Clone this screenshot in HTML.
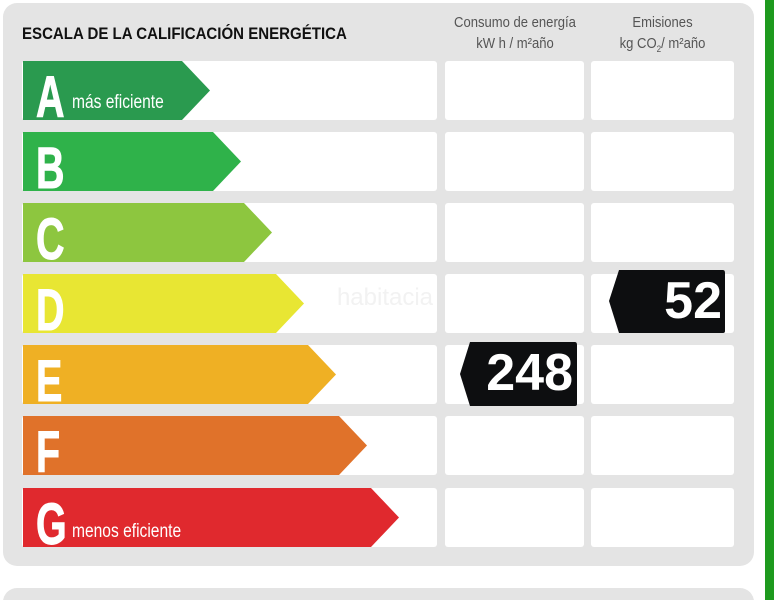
<!DOCTYPE html>
<html><head><meta charset="utf-8"><style>
html,body{margin:0;padding:0;background:#fff;width:774px;height:600px;overflow:hidden;position:relative;font-family:"Liberation Sans",sans-serif}
.panel{position:absolute;left:3px;top:3px;width:751px;height:563px;background:#e4e4e4;border-radius:14px}
.panel2{position:absolute;left:3px;top:588px;width:751px;height:40px;background:#e4e4e4;border-radius:14px}
.green{position:absolute;left:765px;top:0;width:9px;height:600px;background:#1e9a1e}
.title{position:absolute;left:22px;top:24px;font-weight:bold;font-size:17px;color:#111;transform:scaleX(.885);transform-origin:left;white-space:nowrap}
.hd{position:absolute;top:13px;font-size:14.5px;color:#555;text-align:center;line-height:21px;transform:scaleX(.9);white-space:nowrap}
.txt{position:absolute;color:#fff;font-weight:bold;white-space:nowrap;transform-origin:left top}
.L{font-size:58px;line-height:58px;transform:scaleX(.68);-webkit-text-stroke:1px #fff}
.S{font-size:19px;font-weight:normal;transform:scaleX(.82)}
</style></head><body>
<div class="panel"></div><div class="panel2"></div><div class="green"></div>
<div class="title">ESCALA DE LA CALIFICACIÓN ENERGÉTICA</div>
<div class="hd" style="left:445px;width:140px">Consumo de energía<br>kW h / m²año</div>
<div class="hd" style="left:591px;width:143px">Emisiones<br>kg CO<sub style="font-size:9px">2</sub>/ m²año</div>
<svg width="774" height="600" style="position:absolute;left:0;top:0">
<g fill="#fff">
<rect x="22" y="61" width="415" height="59" rx="3"/><rect x="445" y="61" width="139" height="59" rx="3"/><rect x="591" y="61" width="143" height="59" rx="3"/>
<rect x="22" y="132" width="415" height="59" rx="3"/><rect x="445" y="132" width="139" height="59" rx="3"/><rect x="591" y="132" width="143" height="59" rx="3"/>
<rect x="22" y="203" width="415" height="59" rx="3"/><rect x="445" y="203" width="139" height="59" rx="3"/><rect x="591" y="203" width="143" height="59" rx="3"/>
<rect x="22" y="274" width="415" height="59" rx="3"/><rect x="445" y="274" width="139" height="59" rx="3"/><rect x="591" y="274" width="143" height="59" rx="3"/>
<rect x="22" y="345" width="415" height="59" rx="3"/><rect x="445" y="345" width="139" height="59" rx="3"/><rect x="591" y="345" width="143" height="59" rx="3"/>
<rect x="22" y="416" width="415" height="59" rx="3"/><rect x="445" y="416" width="139" height="59" rx="3"/><rect x="591" y="416" width="143" height="59" rx="3"/>
<rect x="22" y="488" width="415" height="59" rx="3"/><rect x="445" y="488" width="139" height="59" rx="3"/><rect x="591" y="488" width="143" height="59" rx="3"/>
</g>
<polygon points="23,61 182,61 210,90.5 182,120 23,120" fill="#2a9a4f"/>
<polygon points="23,132 213,132 241,161.5 213,191 23,191" fill="#2fb24a"/>
<polygon points="23,203 244,203 272,232.5 244,262 23,262" fill="#8dc63f"/>
<polygon points="23,274 276,274 304,303.5 276,333 23,333" fill="#e8e633"/>
<polygon points="23,345 308,345 336,374.5 308,404 23,404" fill="#efb024"/>
<polygon points="23,416 339,416 367,445.5 339,475 23,475" fill="#e0722a"/>
<polygon points="23,488 371,488 399,517.5 371,547 23,547" fill="#e0292e"/>
<path d="M470,342 L575,342 Q577,342 577,345 L577,404 Q577,406 575,406 L470,406 L460,374 Z" fill="#0d0e10"/>
<path d="M619,270 L723,270 Q725,270 725,273 L725,331 Q725,333 723,333 L619,333 L609,301 Z" fill="#0d0e10"/>
<text x="385" y="305" font-family="Liberation Sans" font-size="24" fill="#f2f2f2" text-anchor="middle">habitacia</text>
</svg>
<div class="txt L" style="left:36px;top:69px">A</div>
<div class="txt S" style="left:72px;top:92px">más eficiente</div>
<div class="txt L" style="left:36px;top:140px">B</div>
<div class="txt L" style="left:36px;top:211px">C</div>
<div class="txt L" style="left:36px;top:282px">D</div>
<div class="txt L" style="left:36px;top:353px">E</div>
<div class="txt L" style="left:36px;top:424px">F</div>
<div class="txt L" style="left:36px;top:496px">G</div>
<div class="txt S" style="left:72px;top:521px">menos eficiente</div>
<div class="txt" style="left:470px;top:344px;width:103px;text-align:right;font-size:52px;line-height:58px">248</div>
<div class="txt" style="left:620px;top:272px;width:102px;text-align:right;font-size:52px;line-height:58px">52</div>
</body></html>
